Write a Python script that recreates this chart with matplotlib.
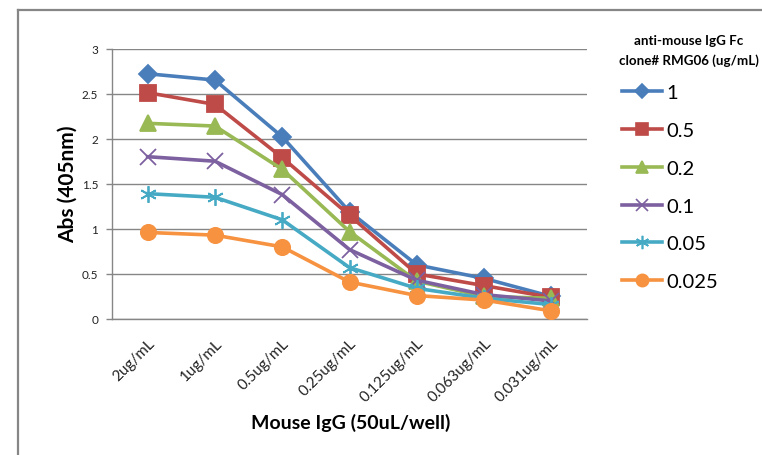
import matplotlib
matplotlib.use("Agg")
import matplotlib.pyplot as plt
from matplotlib.lines import Line2D

categories = ["2ug/mL", "1ug/mL", "0.5ug/mL", "0.25ug/mL", "0.125ug/mL", "0.063ug/mL", "0.031ug/mL"]
series_names = ["1", "0.5", "0.2", "0.1", "0.05", "0.025"]
s_1 = [2.72, 2.65, 2.02, 1.19, 0.60, 0.45, 0.25]
s_05 = [2.51, 2.38, 1.79, 1.15, 0.50, 0.37, 0.24]
s_02 = [2.17, 2.14, 1.66, 0.97, 0.42, 0.25, 0.23]
s_01 = [1.80, 1.75, 1.38, 0.77, 0.43, 0.27, 0.20]
s_005 = [1.39, 1.35, 1.10, 0.57, 0.34, 0.23, 0.16]
s_0025 = [0.96, 0.93, 0.80, 0.41, 0.26, 0.21, 0.09]
y_ticks = [0, 0.5, 1, 1.5, 2, 2.5, 3]
y_tick_labels = ["0", "0.5", "1", "1.5", "2", "2.5", "3"]

all_series = [s_1, s_05, s_02, s_01, s_005, s_0025]
colors = ["#4A7EBB", "#BE4B48", "#98B954", "#7D60A0", "#46AAC5", "#F69240"]
markers = ["D", "s", "^", "x", (6, 2, 0), "o"]
msizes = [9, 11, 11, 11, 12, 11]

plt.rcParams['font.family'] = ['Lato', 'DejaVu Sans']

W, H = 762, 456
fig = plt.figure(figsize=(W / 100, H / 100), dpi=100)
ax = fig.add_axes([112 / W, 1 - 320 / H, (587 - 112) / W, (320 - 49.5) / H])

x = list(range(len(categories)))
handles = []
for vals, c, m, ms, name in zip(all_series, colors, markers, msizes, series_names):
    ax.plot(x, vals, color=c, lw=2.6, marker=m, ms=ms, mew=1.3, mec=c, mfc=c, zorder=3)
    handles.append(Line2D([], [], color=c, lw=2.6, marker=m, ms=ms * 0.8, mew=1.2, mec=c, mfc=c))

ax.set_xlim(-0.53, len(categories) - 0.47)
ax.set_ylim(0, 3)
ax.set_yticks(y_ticks)
ax.set_yticklabels(y_tick_labels, fontsize=8.5, color="#222222")
ax.set_xticks(x)
ax.set_xticklabels(categories, rotation=45, ha="right", rotation_mode="anchor", fontsize=11, color="#222222")
ax.tick_params(axis="x", length=0, pad=12)
ax.tick_params(axis="y", length=4, color="#868686", width=1, pad=6)
ax.grid(axis="y", color="#868686", lw=1)
ax.set_axisbelow(True)
for side in ["top", "right"]:
    ax.spines[side].set_visible(False)
for side in ["left", "bottom"]:
    ax.spines[side].set_color("#868686")
    ax.spines[side].set_linewidth(1)

fig.text(68 / W, 1 - 184 / H, "Abs (405nm)", rotation=90, ha="center", va="center",
         fontsize=15, fontweight="bold")
fig.text(351 / W, 1 - 423 / H, "Mouse IgG (50uL/well)", ha="center", va="center",
         fontsize=14, fontweight="bold")

fig.text(689 / W, 1 - 51 / H, "anti-mouse IgG Fc\nclone# RMG06 (ug/mL)", ha="center", va="center",
         fontsize=9.6, fontweight="bold", linespacing=1.7)

fig.legend(handles=handles, labels=series_names, loc="upper left",
           bbox_to_anchor=(622 / W, 1 - 85 / H), frameon=False, fontsize=14.5,
           borderpad=0, borderaxespad=0,
           handlelength=2.0, handletextpad=0.2, labelspacing=1.03)

# outer chart border (partial, as cropped)
fig.add_artist(Line2D([18 / W, 18 / W], [1 - 11 / H, 0], color="#868686", lw=1.6))
fig.add_artist(Line2D([18 / W, 1], [1 - 11 / H, 1 - 11 / H], color="#868686", lw=1.6))

fig.savefig("out.png", dpi=100, facecolor="white")
